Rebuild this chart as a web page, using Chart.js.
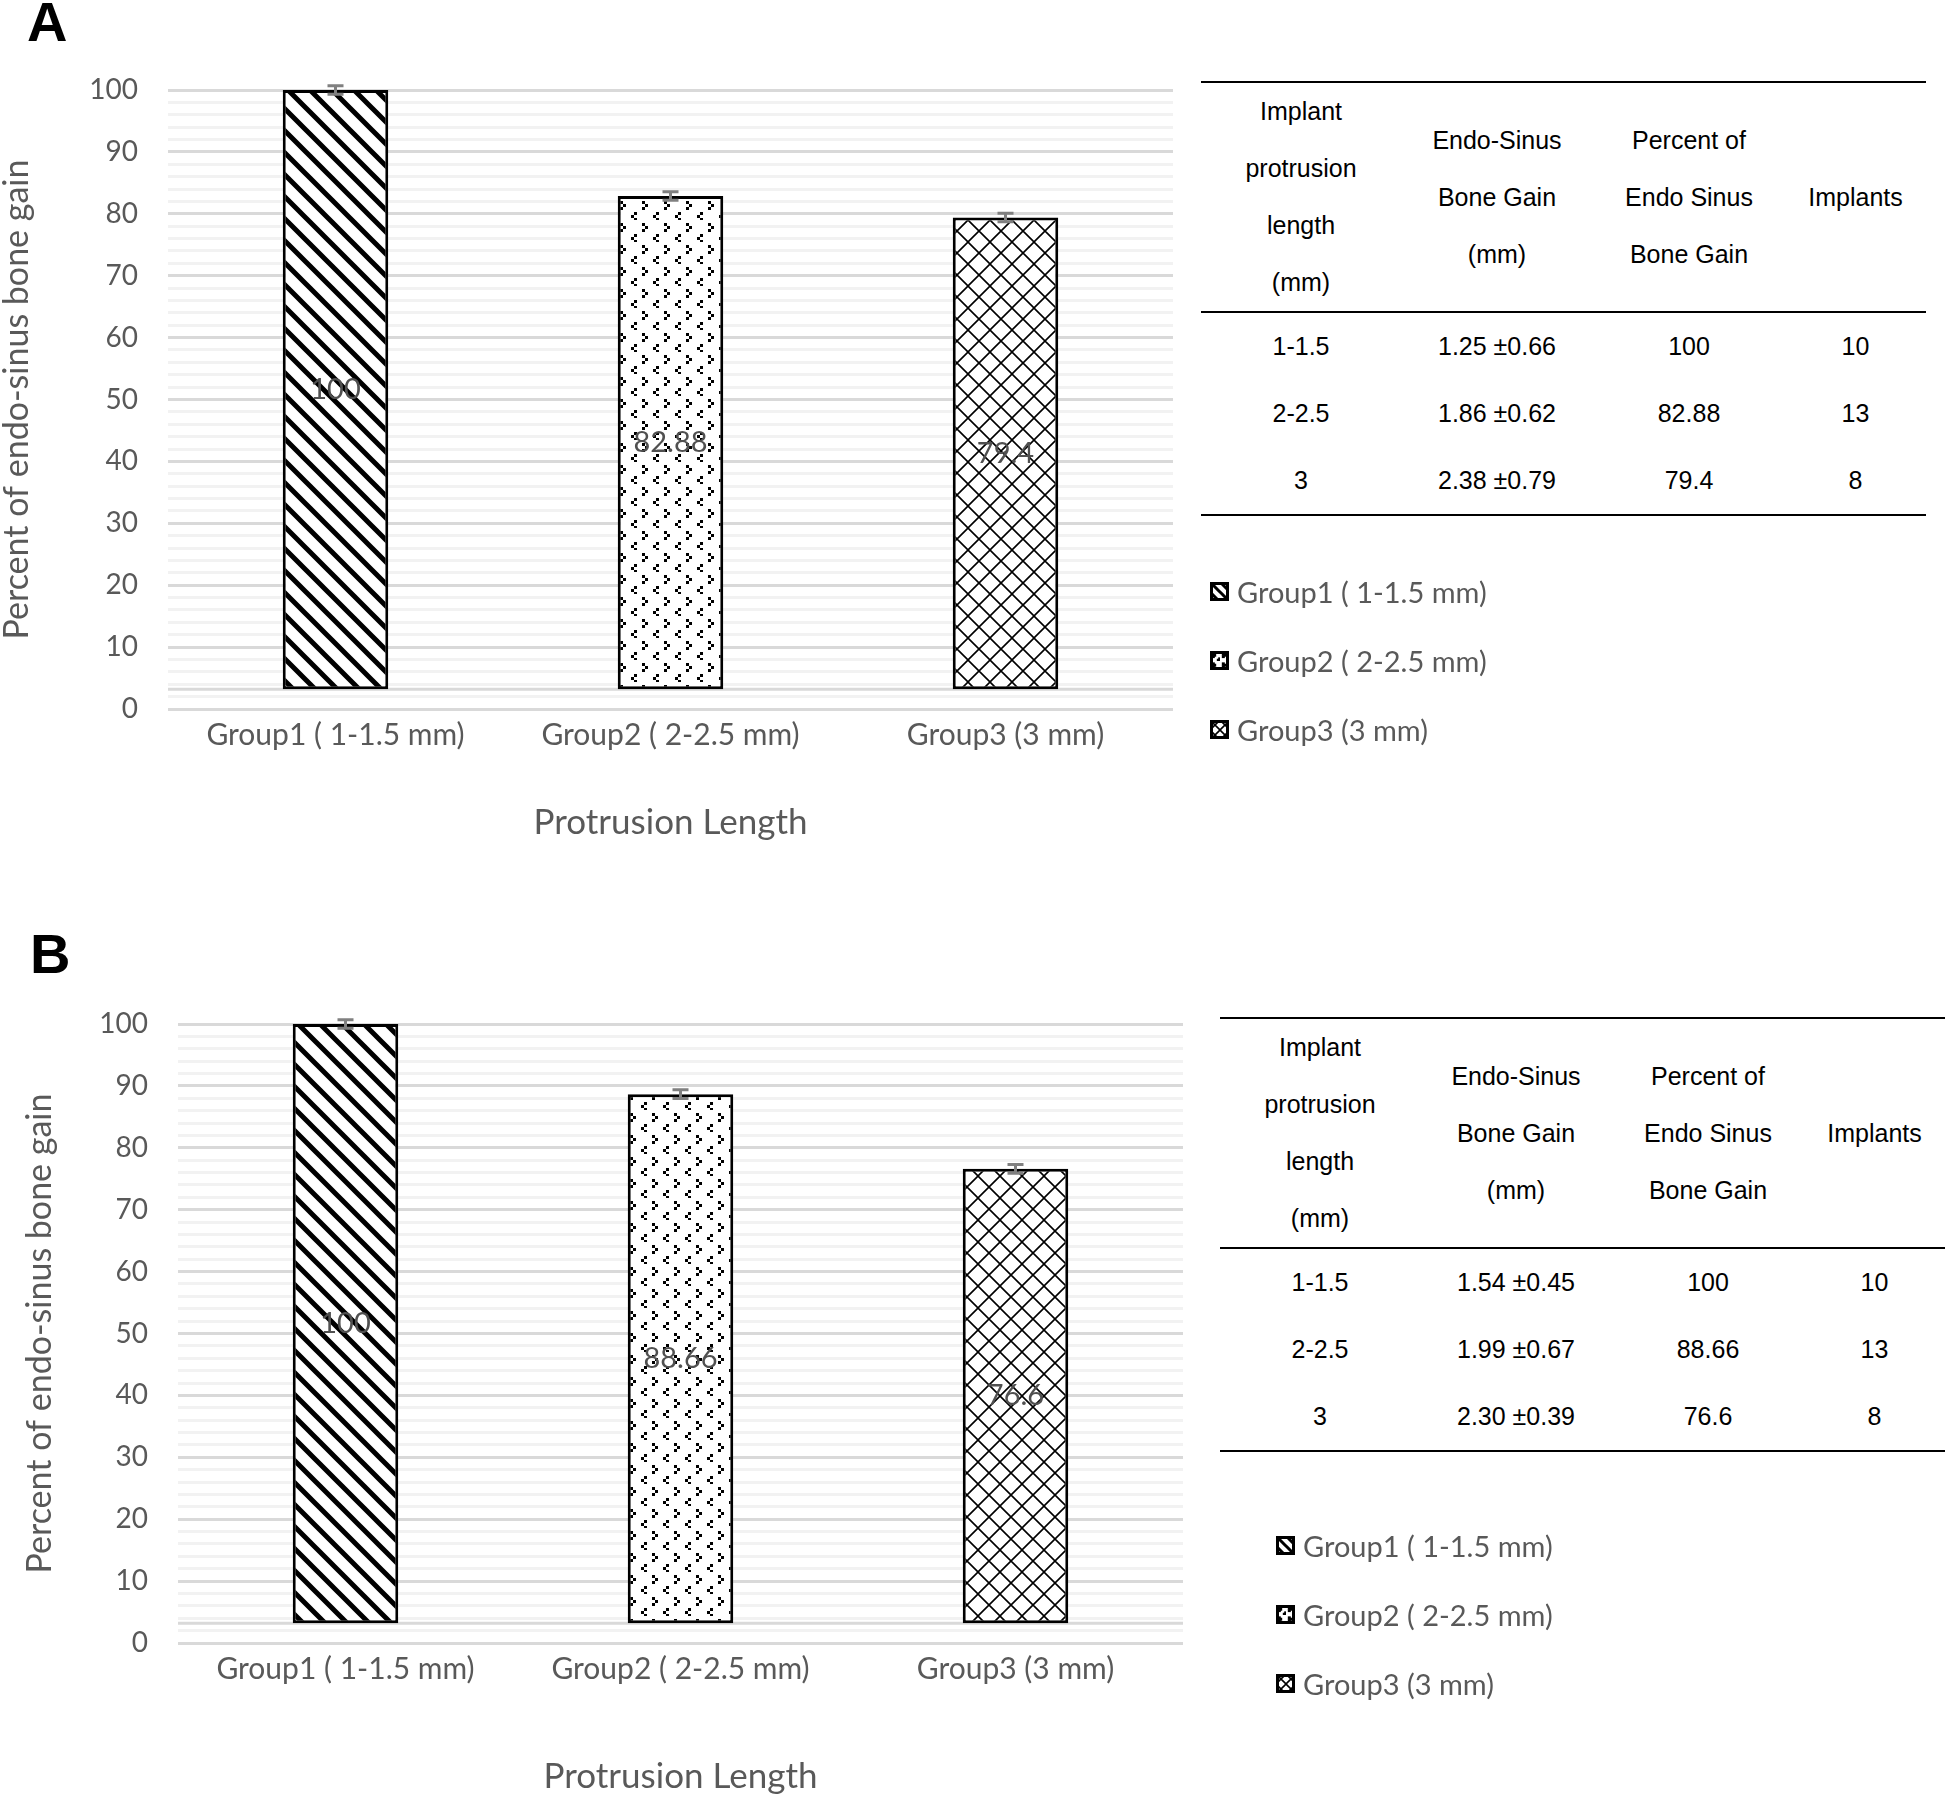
<!DOCTYPE html>
<html>
<head>
<meta charset="utf-8">
<script src="https://cdn.jsdelivr.net/npm/chart.js@4.4.0/dist/chart.umd.min.js"></script>
<style>
    body { margin: 0; background: #fff; width: 1946px; height: 1794px; position: relative; overflow: hidden; }
    .panel-label { position: absolute; font: bold 56px "Liberation Sans", Arial, sans-serif; line-height: 56px; color: #000; z-index: 2; }
    .chart-box { position: absolute; width: 1190px; height: 860px; }
    table.stats { position: absolute; width: 725px; border-collapse: collapse; font: 25px "Liberation Sans", Arial, sans-serif; color: #000; }
    table.stats th, table.stats td { text-align: center; padding: 0; font-weight: normal; }
    table.stats thead tr { border-top: 2px solid #000; border-bottom: 2px solid #000; }
    table.stats thead th { height: 228px; line-height: 57px; vertical-align: middle; }
    table.stats tbody td { height: 67px; }
    table.stats tbody { border-bottom: 2px solid #000; }
    .legend { position: absolute; font: 29px Lato, sans-serif; color: #595959; }
    .legend div { height: 69px; display: flex; align-items: center; }
    .legend canvas { margin-right: 8px; }
</style>
</head>
<body>
<div class="panel-label" style="left:27px; top:-6px;">A</div>
<div class="chart-box" style="left:0; top:0;"><canvas id="chartA" width="1190" height="860"></canvas></div>
<table class="stats" id="tableA" style="left:1201px; top:81px;"></table>
<div class="legend" id="legendA" style="left:1210px; top:557px;"></div>

<div class="panel-label" style="left:30px; top:926px;">B</div>
<div class="chart-box" style="left:10px; top:934px;"><canvas id="chartB" width="1190" height="860"></canvas></div>
<table class="stats" id="tableB" style="left:1220px; top:1017px;"></table>
<div class="legend" id="legendB" style="left:1276px; top:1511px;"></div>

<script>
// data
const categories = ['Group1 ( 1-1.5 mm)', 'Group2 ( 2-2.5 mm)', 'Group3 (3 mm)'];
const percentA = [100, 82.88, 79.4];
const percentB = [100, 88.66, 76.6];
const errorA = [0.7, 0.7, 0.7];
const errorB = [0.7, 0.7, 0.7];
const barBase = 3.2;

const protrusion = ['1-1.5', '2-2.5', '3'];
const gainA = ['1.25 ±0.66', '1.86 ±0.62', '2.38 ±0.79'];
const gainB = ['1.54 ±0.45', '1.99 ±0.67', '2.30 ±0.39'];
const implants = [10, 13, 8];
const tableHeader = [
    ['Implant', 'protrusion', 'length', '(mm)'],
    ['Endo-Sinus', 'Bone Gain', '(mm)'],
    ['Percent of', 'Endo Sinus', 'Bone Gain'],
    ['Implants']
];

const GREY = '#595959';

// fill patterns, same look as the excel ones
function makePattern(kind, size) {
    const s = size || 22;
    const c = document.createElement('canvas');
    c.width = s; c.height = s;
    const g = c.getContext('2d');
    g.fillStyle = '#fff';
    g.fillRect(0, 0, s, s);
    g.strokeStyle = '#000';
    g.fillStyle = '#000';
    if (kind === 'stripe') {
        g.lineWidth = s < 12 ? 3 : 5;
        g.beginPath();
        for (let k = -1; k <= 1; k++) {
            g.moveTo(k * s - 2, -2);
            g.lineTo(k * s + s + 2, s + 2);
        }
        g.stroke();
    } else if (kind === 'confetti') {
        const f = s / 22;
        // ">" mark
        g.fillRect(4 * f, 3 * f, 3, 3); g.fillRect(7 * f, 6 * f, 3, 3); g.fillRect(4 * f, 9 * f, 3, 3);
        // "<" mark
        g.fillRect(18 * f, 14 * f, 3, 3); g.fillRect(15 * f, 17 * f, 3, 3); g.fillRect(18 * f, 20 * f, 3, 2);
    } else {
        g.lineWidth = 1.6;
        g.beginPath();
        g.moveTo(0, 0); g.lineTo(s, s);
        g.moveTo(s, 0); g.lineTo(0, s);
        g.stroke();
    }
    return g.createPattern(c, 'repeat');
}

const patternKinds = ['stripe', 'confetti', 'cross'];

// error bars on top of the bars
const errorBars = {
    id: 'errorBars',
    afterDatasetsDraw(chart, args, opts) {
        const ctx = chart.ctx;
        const y = chart.scales.y;
        const vals = chart.data.datasets[0].data;
        chart.getDatasetMeta(0).data.forEach((bar, i) => {
            const top = y.getPixelForValue(vals[i] + opts.errors[i]);
            const bot = y.getPixelForValue(vals[i] - opts.errors[i]);
            ctx.save();
            ctx.strokeStyle = '#808080';
            ctx.lineWidth = 3;
            ctx.beginPath();
            ctx.moveTo(bar.x, top); ctx.lineTo(bar.x, bot);
            ctx.moveTo(bar.x - 8, top); ctx.lineTo(bar.x + 8, top);
            ctx.moveTo(bar.x - 8, bot); ctx.lineTo(bar.x + 8, bot);
            ctx.stroke();
            ctx.restore();
        });
    }
};

// value labels in the middle of each bar
const valueLabels = {
    id: 'valueLabels',
    afterDatasetsDraw(chart) {
        const ctx = chart.ctx;
        const vals = chart.data.datasets[0].data;
        chart.getDatasetMeta(0).data.forEach((bar, i) => {
            const p = bar.getCenterPoint();
            ctx.save();
            ctx.font = '29px Lato';
            ctx.fillStyle = '#505050';
            ctx.textAlign = 'center';
            ctx.textBaseline = 'middle';
            ctx.fillText(String(vals[i]), p.x, p.y);
            ctx.restore();
        });
    }
};

// category axis line, sits where the bars start
const baseLine = {
    id: 'baseLine',
    beforeDatasetsDraw(chart) {
        const ctx = chart.ctx;
        const a = chart.chartArea;
        const yy = chart.scales.y.getPixelForValue(barBase);
        ctx.save();
        ctx.strokeStyle = '#d9d9d9';
        ctx.lineWidth = 3;
        ctx.beginPath();
        ctx.moveTo(a.left, yy); ctx.lineTo(a.right, yy);
        ctx.stroke();
        ctx.restore();
    }
};

function buildChart(id, values, errors, opt) {
    return new Chart(document.getElementById(id), {
        type: 'bar',
        data: {
            labels: categories,
            datasets: [{
                data: values,
                base: barBase,
                backgroundColor: patternKinds.map(k => makePattern(k)),
                borderColor: '#000',
                borderWidth: 3,
                borderSkipped: false,
                barPercentage: 0.315,
                categoryPercentage: 1
            }]
        },
        plugins: [baseLine, errorBars, valueLabels],
        options: {
            responsive: false,
            animation: false,
            layout: { padding: { top: 90, right: 17, bottom: opt.padBottom, left: 0 } },
            plugins: {
                legend: { display: false },
                tooltip: { enabled: false },
                errorBars: { errors: errors }
            },
            scales: {
                x: {
                    grid: { display: false, drawTicks: false },
                    border: { display: false },
                    ticks: { color: GREY, font: { family: 'Lato', size: 30 }, padding: 8, maxRotation: 0 },
                    title: {
                        display: true, text: 'Protrusion Length', color: GREY,
                        font: { family: 'Lato', size: 35, lineHeight: 1 },
                        padding: { top: 0, bottom: opt.xTitlePad }
                    },
                    afterFit: s => { s.height = opt.xHeight; }
                },
                y: {
                    min: 0, max: 100,
                    grid: {
                        drawTicks: false,
                        lineWidth: 3,
                        color: c => (c.tick.value % 10 === 0 ? '#d9d9d9' : '#f2f2f2')
                    },
                    border: { display: false },
                    ticks: {
                        stepSize: 2, autoSkip: false, padding: 30, color: GREY,
                        font: { family: 'Lato', size: 28 },
                        callback: v => (v % 10 === 0 ? v : '')
                    },
                    title: {
                        display: true, text: 'Percent of endo-sinus bone gain', color: GREY,
                        font: { family: 'Lato', size: 34, lineHeight: 1 },
                        padding: { top: opt.yTitlePad, bottom: 0 }
                    },
                    afterFit: s => { s.width = 168; }
                }
            }
        }
    });
}

function fillTable(id, gain, percent) {
    const t = document.getElementById(id);
    let html = '<thead><tr>';
    tableHeader.forEach(lines => { html += '<th>' + lines.join('<br>') + '</th>'; });
    html += '</tr></thead><tbody>';
    protrusion.forEach((p, i) => {
        html += '<tr><td>' + p + '</td><td>' + gain[i] + '</td><td>' + percent[i] + '</td><td>' + implants[i] + '</td></tr>';
    });
    html += '</tbody>';
    t.innerHTML = html;
    const cols = [200, 192, 192, 141];
    t.querySelectorAll('th').forEach((th, i) => { th.style.width = cols[i] + 'px'; });
}

function fillLegend(id) {
    const box = document.getElementById(id);
    categories.forEach((name, i) => {
        const row = document.createElement('div');
        const sw = document.createElement('canvas');
        sw.width = 19; sw.height = 19;
        const g = sw.getContext('2d');
        g.fillStyle = makePattern(patternKinds[i], 10);
        g.fillRect(0, 0, 19, 19);
        g.strokeStyle = '#000';
        g.lineWidth = 3;
        g.strokeRect(1.5, 1.5, 16, 16);
        row.appendChild(sw);
        row.appendChild(document.createTextNode(name));
        box.appendChild(row);
    });
}

buildChart('chartA', percentA, errorA, { padBottom: 12, xHeight: 139, xTitlePad: 8, yTitlePad: 0 });
buildChart('chartB', percentB, errorB, { padBottom: 0, xHeight: 151, xTitlePad: 0, yTitlePad: 13 });
fillTable('tableA', gainA, percentA);
fillTable('tableB', gainB, percentB);
fillLegend('legendA');
fillLegend('legendB');
</script>
</body>
</html>
